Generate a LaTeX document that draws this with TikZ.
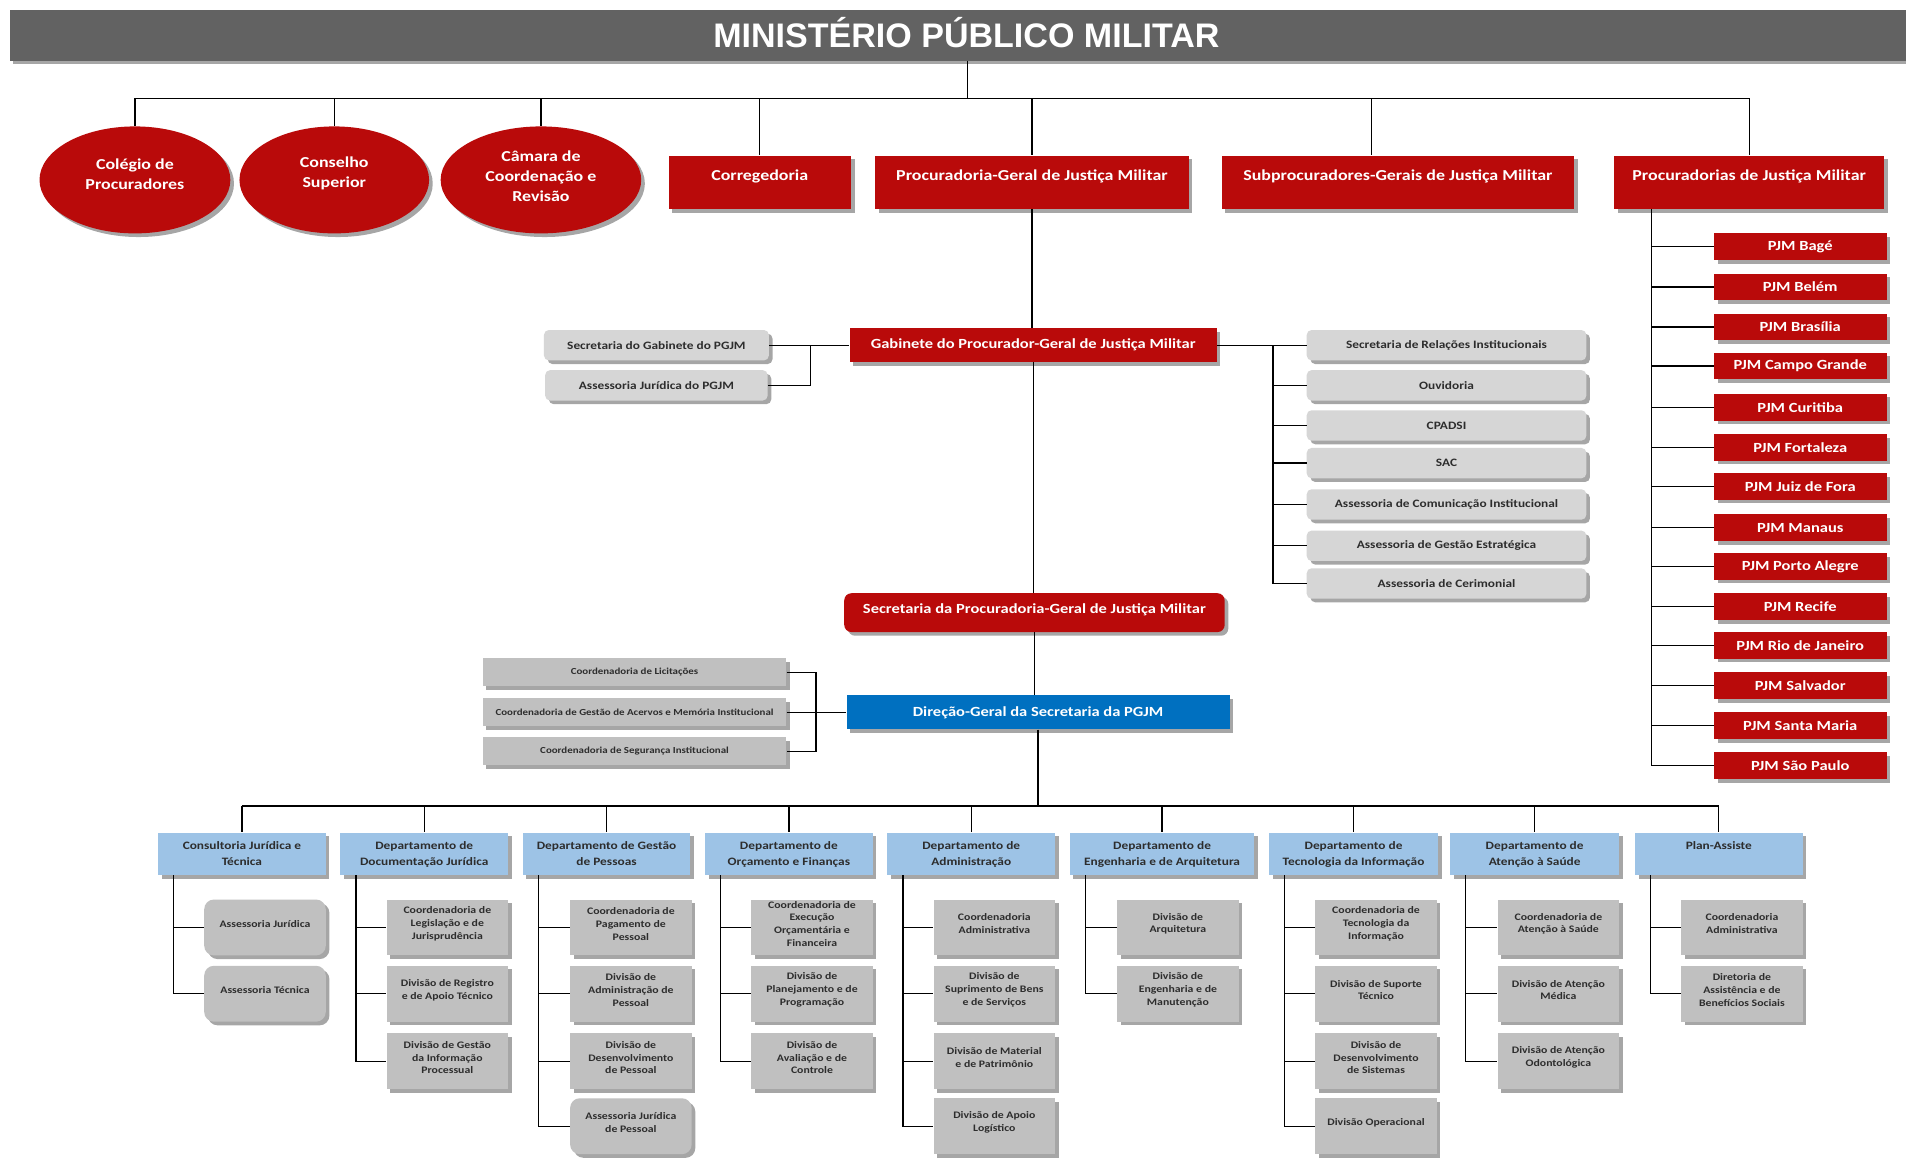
\documentclass[tikz,border=0pt]{standalone}
\usepackage{fontspec}
\setmainfont{Carlito}[FakeStretch=1.18]
\newfontfamily\titlefont{Liberation Sans}
\usetikzlibrary{shapes.geometric,shadows}
\definecolor{mred}{RGB}{185,10,10}
\definecolor{mblue}{RGB}{0,112,192}
\definecolor{lblue}{RGB}{157,195,230}
\definecolor{gbar}{RGB}{98,98,98}
\definecolor{gbox}{RGB}{192,192,192}
\definecolor{gboxl}{RGB}{214,214,214}
\definecolor{gtext}{RGB}{45,45,45}
\newcommand\dtxt[2]{\parbox[c][35pt][t]{#1}{\centering\vspace*{7.5pt}#2}}
\newcommand\ctxt[1]{\parbox[c][46pt][c]{100pt}{\centering #1\par\vspace*{6pt}}}
\newcommand\utxt[3]{\parbox{#1}{\centering #3\par\vspace*{#2}}}
\tikzset{
  conn/.style={line width=1.1pt, black},
  shad/.style={drop shadow={shadow xshift=3pt, shadow yshift=-3pt, fill=black, opacity=.35}},
  circ/.style={ellipse, fill=mred, shad, text=white, font=\bfseries\fontsize{12.5}{16.5}\selectfont, align=center, inner sep=0, minimum height=88pt},
  topbox/.style={rectangle, fill=mred, shad, text=white, font=\bfseries\fontsize{12.5}{15}\selectfont, minimum height=44pt, inner sep=0},
  midred/.style={rectangle, fill=mred, shad, text=white, font=\bfseries\fontsize{11.5}{14}\selectfont, inner sep=0},
  pjmbox/.style={rectangle, fill=mred, shad, text=white, font=\bfseries\fontsize{11.5}{13}\selectfont, minimum width=142pt, minimum height=22pt, inner sep=0},
  gsmall/.style={rectangle, rounded corners=4pt, fill=gboxl, shad, text=gtext, font=\bfseries\fontsize{9.3}{11}\selectfont, minimum height=25pt, inner sep=0},
  dbox/.style={rectangle, fill=gbox, shad, text=gtext, font=\bfseries\fontsize{7.6}{9}\selectfont, minimum width=250pt, minimum height=23pt, inner sep=0},
  dept/.style={rectangle, fill=lblue, shad, text=gtext, font=\bfseries\fontsize{9.3}{13}\selectfont, inner sep=0},
  child/.style={rectangle, fill=gbox, shad, text=gtext, font=\bfseries\fontsize{8.2}{10.5}\selectfont, inner sep=0},
  childr/.style={child, rounded corners=8pt},
}
\begin{document}
\begin{tikzpicture}[x=1pt,y=-1pt]
\useasboundingbox (0,0) rectangle (1568,953);
\fill[white] (0,0) rectangle (1568,953);
% title
\node[rectangle, fill=gbar, shad, minimum width=1560pt, minimum height=42pt, inner sep=0] (title) at (788,29) {};
\node[text=white, font=\titlefont\bfseries\fontsize{28}{30}\selectfont, inner sep=0] (titletext) at (795,27) {MINISTÉRIO PÚBLICO MILITAR};
\coordinate (topbus) at (796,81);
% top level
\node[circ, minimum width=157pt] (c1) at (111,148) {\utxt{100pt}{10pt}{Colégio de\\Procuradores}};
\node[circ, minimum width=156pt] (c2) at (275,148) {\utxt{100pt}{10pt}{Conselho\\Superior}};
\node[circ, minimum width=165pt] (c3) at (445,148) {\utxt{100pt}{6pt}{Câmara de\\Coordenação e\\Revisão}};
\node[topbox, minimum width=150pt] (corr) at (625,150) {\utxt{150pt}{10pt}{Corregedoria}};
\node[topbox, minimum width=258pt] (pg) at (849,150) {\utxt{258pt}{10pt}{Procuradoria-Geral de Justiça Militar}};
\node[topbox, minimum width=290pt] (sub) at (1150,150) {\utxt{290pt}{10pt}{Subprocuradores-Gerais de Justiça Militar}};
\node[topbox, minimum width=222pt] (proc) at (1439,150) {\utxt{222pt}{10pt}{Procuradorias de Justiça Militar}};
\draw[conn] (title.south -| topbus) -- (topbus);
\draw[conn] (c1.north |- topbus) -- (proc.north |- topbus);
\draw[conn] (c1.north |- topbus) -- (c1.north);
\draw[conn] (c2.north |- topbus) -- (c2.north);
\draw[conn] (c3.north |- topbus) -- (c3.north);
\draw[conn] (corr.north |- topbus) -- (corr.north);
\draw[conn] (pg.north |- topbus) -- (pg.north);
\draw[conn] ([xshift=-22pt]sub.north |- topbus) -- ([xshift=-22pt]sub.north);
\draw[conn] (proc.north |- topbus) -- (proc.north);
% PJM column
\foreach \n/\yy/\t in {p1/203/PJM Bagé, p2/236/PJM Belém, p3/269/PJM Brasília, p4/301/PJM Campo Grande, p5/335/PJM Curitiba, p6/368/PJM Fortaleza, p7/400/PJM Juiz de Fora, p8/434/PJM Manaus, p9/466/PJM Porto Alegre, p10/499/PJM Recife, p11/531/PJM Rio de Janeiro, p12/564/PJM Salvador, p13/597/PJM Santa Maria, p14/630/PJM São Paulo}{
  \node[pjmbox] (\n) at (1481,\yy) {\t};
  \draw[conn] ([xshift=31pt]proc.south west) |- (\n.west);
}
% Gabinete
\node[midred, minimum width=302pt, minimum height=28pt] (gab) at (850,284) {Gabinete do Procurador-Geral de Justiça Militar};
\draw[conn] (pg.south) -- (pg.south |- gab.north);
\node[gsmall, minimum width=185pt] (sgab) at (540,284) {Secretaria do Gabinete do PGJM};
\node[gsmall, minimum width=183pt] (ajur) at (540,317) {Assessoria Jurídica do PGJM};
\draw[conn] (sgab.east) -- (gab.west);
\draw[conn] (ajur.east) -| ([xshift=-32pt]gab.west);
\foreach \n/\yy/\t in {r1/284/Secretaria de Relações Institucionais, r2/317/Ouvidoria, r3/350/CPADSI, r4/381/SAC, r5/415/Assessoria de Comunicação Institucional, r6/449/Assessoria de Gestão Estratégica, r7/480/Assessoria de Cerimonial}{
  \node[gsmall, minimum width=230pt] (\n) at (1190,\yy) {\t};
  \draw[conn] ([xshift=46pt]gab.east) |- (\n.west);
}
\draw[conn] (gab.east) -- ([xshift=46pt]gab.east);
% Secretaria and Direcao
\node[midred, rounded corners=6pt, minimum width=313pt, minimum height=32pt] (spgj) at (851,504) {\utxt{313pt}{5pt}{Secretaria da Procuradoria-Geral de Justiça Militar}};
\draw[conn] (gab.south) -- (gab.south |- spgj.north);
\node[midred, fill=mblue, minimum width=315pt, minimum height=28pt] (dir) at (854,586) {Direção-Geral da Secretaria da PGJM};
\draw[conn] (spgj.south) -- (spgj.south |- dir.north);
\node[dbox] (dl1) at (522,553) {Coordenadoria de Licitações};
\node[dbox] (dl2) at (522,586) {Coordenadoria de Gestão de Acervos e Memória Institucional};
\node[dbox] (dl3) at (522,618) {Coordenadoria de Segurança Institucional};
\draw[conn] (dl2.east) -- (dir.west);
\draw[conn] (dl1.east) -| ([xshift=-25pt]dir.west) |- (dl3.east);
% departments
\coordinate (bus) at (852,663);
\draw[conn] (dir.south) -- (dir.south |- bus);
\node[dept] (d1) at (199,702.5) {\dtxt{138pt}{Consultoria Jurídica e\\Técnica}};
\node[dept] (d2) at (349,702.5) {\dtxt{138pt}{Departamento de\\Documentação Jurídica}};
\node[dept] (d3) at (499,702.5) {\dtxt{138pt}{Departamento de Gestão\\de Pessoas}};
\node[dept] (d4) at (649,702.5) {\dtxt{138pt}{Departamento de\\Orçamento e Finanças}};
\node[dept] (d5) at (799,702.5) {\dtxt{138pt}{Departamento de\\Administração}};
\node[dept] (d6) at (956,702.5) {\dtxt{152pt}{Departamento de\\Engenharia e de Arquitetura}};
\node[dept] (d7) at (1113.5,702.5) {\dtxt{139pt}{Departamento de\\Tecnologia da Informação}};
\node[dept] (d8) at (1262.5,702.5) {\dtxt{139pt}{Departamento de\\Atenção à Saúde}};
\node[dept] (d9) at (1414,702.5) {\dtxt{138pt}{Plan-Assiste}};
\draw[conn] (d1.north |- bus) -- (d9.north |- bus);
\foreach \d in {d1,d2,d3,d4,d5,d6,d7,d8,d9}{
  \draw[conn] (\d.north |- bus) -- (\d.north);
}
% children
\newcommand\kid[5]{% style, name, x, y, text
  \node[#1] (#2) at (#3,#4) {\ctxt{#5}};}
\kid{childr}{k11}{218}{763}{Assessoria Jurídica}
\kid{childr}{k12}{218}{817.5}{Assessoria Técnica}
\kid{child}{k21}{368}{763}{Coordenadoria de\\Legislação e de\\Jurisprudência}
\kid{child}{k22}{368}{817.5}{Divisão de Registro\\e de Apoio Técnico}
\kid{child}{k23}{368}{873}{Divisão de Gestão\\da Informação\\Processual}
\kid{child}{k31}{519}{763}{Coordenadoria de\\Pagamento de\\Pessoal}
\kid{child}{k32}{519}{817.5}{Divisão de\\Administração de\\Pessoal}
\kid{child}{k33}{519}{873}{Divisão de\\Desenvolvimento\\de Pessoal}
\kid{childr}{k34}{519}{926.5}{Assessoria Jurídica\\de Pessoal}
\kid{child}{k41}{668}{763}{Coordenadoria de\\Execução\\Orçamentária e\\Financeira}
\kid{child}{k42}{668}{817.5}{Divisão de\\Planejamento e de\\Programação}
\kid{child}{k43}{668}{873}{Divisão de\\Avaliação e de\\Controle}
\kid{child}{k51}{818}{763}{Coordenadoria\\Administrativa}
\kid{child}{k52}{818}{817.5}{Divisão de\\Suprimento de Bens\\e de Serviços}
\kid{child}{k53}{818}{873}{Divisão de Material\\e de Patrimônio}
\kid{child}{k54}{818}{926.5}{Divisão de Apoio\\Logístico}
\kid{child}{k61}{969}{763}{Divisão de\\Arquitetura}
\kid{child}{k62}{969}{817.5}{Divisão de\\Engenharia e de\\Manutenção}
\kid{child}{k71}{1132}{763}{Coordenadoria de\\Tecnologia da\\Informação}
\kid{child}{k72}{1132}{817.5}{Divisão de Suporte\\Técnico}
\kid{child}{k73}{1132}{873}{Divisão de\\Desenvolvimento\\de Sistemas}
\kid{child}{k74}{1132}{926.5}{Divisão Operacional}
\kid{child}{k81}{1282}{763}{Coordenadoria de\\Atenção à Saúde}
\kid{child}{k82}{1282}{817.5}{Divisão de Atenção\\Médica}
\kid{child}{k83}{1282}{873}{Divisão de Atenção\\Odontológica}
\kid{child}{k91}{1433}{763}{Coordenadoria\\Administrativa}
\kid{child}{k92}{1433}{817.5}{Diretoria de\\Assistência e de\\Benefícios Sociais}
\foreach \d/\ks in {d1/{k11,k12}, d2/{k21,k22,k23}, d3/{k31,k32,k33,k34}, d4/{k41,k42,k43}, d5/{k51,k52,k53,k54}, d6/{k61,k62}, d7/{k71,k72,k73,k74}, d8/{k81,k82,k83}, d9/{k91,k92}}{
  \foreach \k in \ks {
    \draw[conn] ([xshift=13pt]\d.south west) |- (\k.west);
  }
}
\end{tikzpicture}
\end{document}
